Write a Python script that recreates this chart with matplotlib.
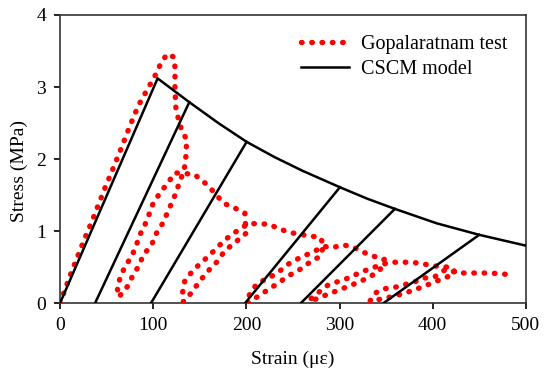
import matplotlib
matplotlib.use("Agg")
import matplotlib.pyplot as plt

# ---- Gopalaratnam test (cyclic stress-strain path) ----
test_strain = [0, 12.5, 26, 35, 48, 57, 66, 74.4, 84, 96.6, 103, 108, 115, 121.6, 123.4, 123.4,
               124.5, 130.6, 136, 134.8, 132.5,
               # loop 1 down (right row) then up (left row)
               128, 124.5, 119.8, 115.1, 109.8, 103, 98.4, 89.4, 85.1, 78, 72.2, 64, 62.6,
               61.5, 65.1, 69.7, 76.9, 81.5, 85.8, 91.2, 95.8, 100.1, 107.3, 115.1, 123.4,
               # softening branch 1
               144, 155.6, 166.3, 175.2, 187.8, 198.5,
               # loop 2
               199.6, 188.5, 177, 168.1, 159.1, 149.5, 141.3, 132.3,
               131.7, 134.1, 143.8, 155.6, 166.3, 177, 189.6, 202.8,
               # softening branch 2
               212.8, 223.5, 234.2, 246.8, 257.5, 268.2, 279, 283.7,
               # loop 3
               281.4, 279, 268.2, 257.5, 245, 234.2, 223.5, 212.8, 205, 200.3,
               203.9, 212, 225.3, 236, 246.8, 258.6, 269.3, 283.7,
               # softening branch 3
               291.5, 304, 314.7, 325.3, 337.3, 348,
               # loop 4
               343, 332.6, 321.9, 310.1, 298.7, 288, 275.4, 267,
               276.4, 287.3, 298, 309.4, 320.8, 332.6, 344.1, 354,
               # softening branch 4
               365.5, 377.3, 388.8, 399.5, 411.3, 421.9,
               # loop 5
               423.8, 413.1, 402.4, 391.6, 380.9, 370, 358.7, 345, 332.6,
               338, 346.9, 358.7, 370.2, 380.9, 390.9, 402.4, 413.8, 427.4,
               # final softening
               438.1, 450, 461.4, 472.1, 481]
test_stress = [0, 0.44, 0.88, 1.16, 1.59, 1.87, 2.16, 2.44, 2.74, 3.03, 3.18, 3.32, 3.46, 3.42, 3.28, 2.98,
               2.68, 2.40, 2.27, 1.96, 1.82,
               1.67, 1.53, 1.39, 1.25, 1.10, 0.96, 0.81, 0.67, 0.53, 0.38, 0.23, 0.10, 0.09,
               0.23, 0.37, 0.51, 0.65, 0.79, 0.95, 1.09, 1.24, 1.39, 1.53, 1.66, 1.81,
               1.79, 1.67, 1.53, 1.39, 1.32, 1.25,
               0.97, 0.85, 0.73, 0.57, 0.45, 0.30, 0.15, 0.02,
               0.16, 0.32, 0.47, 0.61, 0.74, 0.88, 1.00, 1.11,
               1.10, 1.10, 1.04, 0.98, 0.96, 0.93, 0.92, 0.79,
               0.74, 0.65, 0.57, 0.47, 0.38, 0.28, 0.19, 0.10, 0.03, 0.00,
               0.14, 0.28, 0.36, 0.45, 0.56, 0.64, 0.70, 0.79,
               0.77, 0.81, 0.78, 0.71, 0.65, 0.61,
               0.45, 0.37, 0.30, 0.24, 0.18, 0.13, 0.06, 0.04,
               0.14, 0.25, 0.30, 0.35, 0.42, 0.48, 0.53, 0.57,
               0.57, 0.57, 0.55, 0.52, 0.51, 0.49,
               0.42, 0.35, 0.30, 0.24, 0.19, 0.14, 0.10, 0.06, 0.03,
               0.14, 0.20, 0.22, 0.26, 0.30, 0.35, 0.37, 0.47, 0.42,
               0.42, 0.42, 0.42, 0.41, 0.40]

# ---- CSCM model ----
env_strain = [104.8, 138.8, 170, 200.3, 230, 260, 300.4, 330, 359.4, 404.2, 449.9, 500]
env_stress = [3.12, 2.79, 2.50, 2.24, 2.03, 1.84, 1.61, 1.45, 1.31, 1.11, 0.95, 0.80]
unload_zero_strain = [37.6, 97.6, 198.5, 258.3, 346.9]
unload_top_strain = [138.8, 200.3, 300.4, 359.4, 449.9]
unload_top_stress = [2.79, 2.24, 1.61, 1.31, 0.95]

x_ticks = [0, 100, 200, 300, 400, 500]
y_ticks = [0, 1, 2, 3, 4]

plt.rcParams['font.family'] = ['Liberation Serif', 'DejaVu Serif']

fig = plt.figure(figsize=(5.45, 3.74), dpi=100)
ax = fig.add_axes([0.110, 0.189, 0.855, 0.771])

red = '#ff0000'
ax.plot(test_strain, test_stress, color=red, lw=3.9, linestyle=(0, (0.1, 1.8)),
        dash_capstyle='round', label='Gopalaratnam test', zorder=3)

model_x = [0] + env_strain
model_y = [0] + env_stress
ax.plot(model_x, model_y, color='black', lw=1.8, label='CSCM model', zorder=4)
for x0, xt, yt in zip(unload_zero_strain, unload_top_strain, unload_top_stress):
    ax.plot([x0, xt], [0, yt], color='black', lw=1.8, zorder=4)

ax.set_xlim(0, 500)
ax.set_ylim(0, 4)
ax.set_xticks(x_ticks)
ax.set_yticks(y_ticks)
ax.tick_params(direction='out', length=4, width=1.2, labelsize=14, pad=6, colors='black')
for s in ax.spines.values():
    s.set_linewidth(1.2)
    s.set_color('#333333')

ax.set_xlabel('Strain (με)', fontsize=14)
ax.set_ylabel('Stress (MPa)', fontsize=14)
ax.xaxis.set_label_coords(0.5, -0.165)
ax.yaxis.set_label_coords(-0.068, 0.46)

leg = ax.legend(loc='upper left', bbox_to_anchor=(0.517, 0.93), frameon=False, fontsize=14.5,
                handlelength=2.4, handletextpad=0.6, labelspacing=0.3, borderaxespad=0,
                borderpad=0)

fig.savefig('out.png', dpi=100)
